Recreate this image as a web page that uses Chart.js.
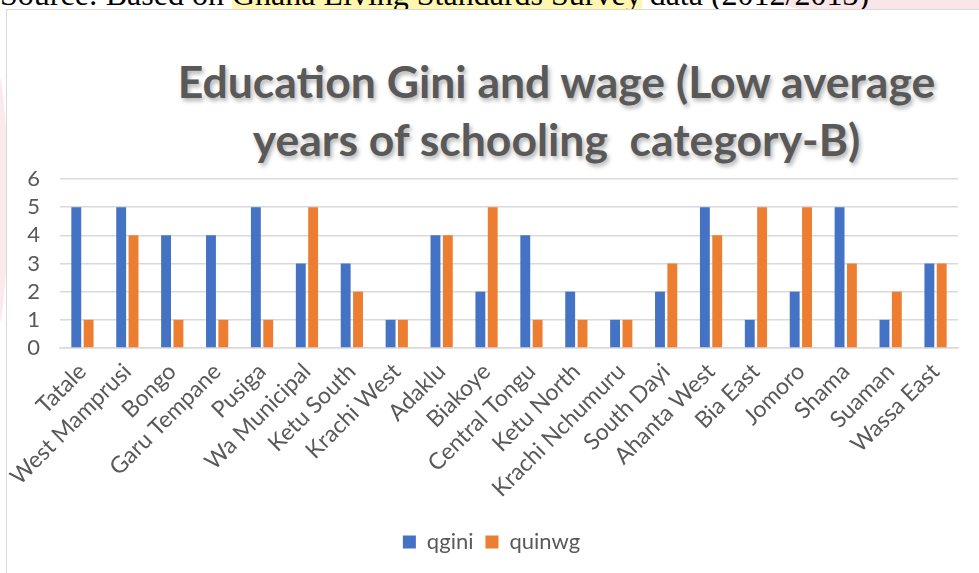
<!DOCTYPE html>
<html>
<head>
<meta charset="utf-8">
<script src="https://cdn.jsdelivr.net/npm/chart.js@4/dist/chart.umd.min.js"></script>
<style>
    body { margin: 0; width: 979px; height: 573px; overflow: hidden; background: #fff; position: relative; }
    .mark { position: absolute; border-radius: 50%; }
    .source { position: absolute; left: 0; top: -22px; line-height: 32px; font-family: "Liberation Serif", serif; font-size: 32px; color: #000; white-space: nowrap; }
    .source span { background: #fff6b0; }
    .box { position: absolute; left: 6px; top: 9px; width: 1100px; height: 600px; border: 1px solid #d9d9d9; background: #fff; }
    .title { position: absolute; left: 0; top: 52px; width: 1113px; text-align: center; font-family: Lato, sans-serif; font-weight: bold; font-size: 44.5px; line-height: 58px; color: #595959; text-shadow: 2px 3px 4px rgba(0,0,0,0.3); }
    #wrap { position: absolute; left: 7px; top: 10px; width: 972px; height: 563px; }
</style>
</head>
<body>
<div class="mark" style="left:-22px; top:60px; width:30px; height:280px; background:rgba(236,170,185,0.25);"></div>
<div class="mark" style="left:760px; top:-30px; width:260px; height:45px; background:rgba(240,180,190,0.35);"></div>
<div class="source">Source: Based on <span>Ghana Living Standards Survey</span> data (2012/2013)</div>
<div class="box"></div>
<div class="title">Education Gini and wage (Low average<br>years of schooling&nbsp; category-B)</div>
<div id="wrap"><canvas id="barChart"></canvas></div>
<script>
// district names on the x axis
var districts = ["Tatale", "West Mamprusi", "Bongo", "Garu Tempane", "Pusiga", "Wa Municipal",
    "Ketu South", "Krachi West", "Adaklu", "Biakoye", "Central Tongu", "Ketu North",
    "Krachi Nchumuru", "South Dayi", "Ahanta West", "Bia East", "Jomoro", "Shama",
    "Suaman", "Wassa East"];

// quintile values
var qgini = [5, 5, 4, 4, 5, 3, 3, 1, 4, 2, 4, 2, 1, 2, 5, 1, 2, 5, 1, 3];
var quinwg = [1, 4, 1, 1, 1, 5, 2, 1, 4, 5, 1, 1, 1, 3, 4, 5, 5, 3, 2, 3];

var yMin = 0, yMax = 6, yStep = 1;

var grey = "#595959";

var ctx = document.getElementById("barChart").getContext("2d");
var barChart = new Chart(ctx, {
    type: "bar",
    data: {
        labels: districts,
        datasets: [
            {
                label: "qgini",
                data: qgini,
                backgroundColor: "#4472C4",
                categoryPercentage: 0.55,
                barPercentage: 0.8,
            },
            {
                label: "quinwg",
                data: quinwg,
                backgroundColor: "#ED7D31",
                categoryPercentage: 0.55,
                barPercentage: 0.8,
            },
        ],
    },
    options: {
        responsive: true,
        maintainAspectRatio: false,
        animation: false,
        layout: { padding: { left: 18, right: 21, top: 169, bottom: 10 } },
        plugins: {
            legend: {
                position: "bottom",
                labels: {
                    color: grey,
                    font: { family: "Lato", size: 22 },
                    boxWidth: 13,
                    boxHeight: 13,
                    padding: 12,
                },
            },
            tooltip: { enabled: false },
        },
        scales: {
            x: {
                grid: { display: false },
                border: { display: true, color: "#d9d9d9", width: 1.5 },
                ticks: {
                    color: grey,
                    font: { family: "Lato", size: 23 },
                    minRotation: 45,
                    maxRotation: 45,
                    autoSkip: false,
                    padding: 2,
                },
                afterFit: function (s) { s.height = 171; },
            },
            y: {
                min: yMin,
                max: yMax,
                grid: { color: "#d9d9d9", lineWidth: 1.5, drawTicks: false },
                border: { display: false },
                ticks: {
                    stepSize: yStep,
                    autoSkip: false,
                    color: grey,
                    font: { family: "Lato", size: 22 },
                    padding: 20,
                },
                afterFit: function (s) { s.width = 35; },
            },
        },
    },
});
</script>
</body>
</html>
